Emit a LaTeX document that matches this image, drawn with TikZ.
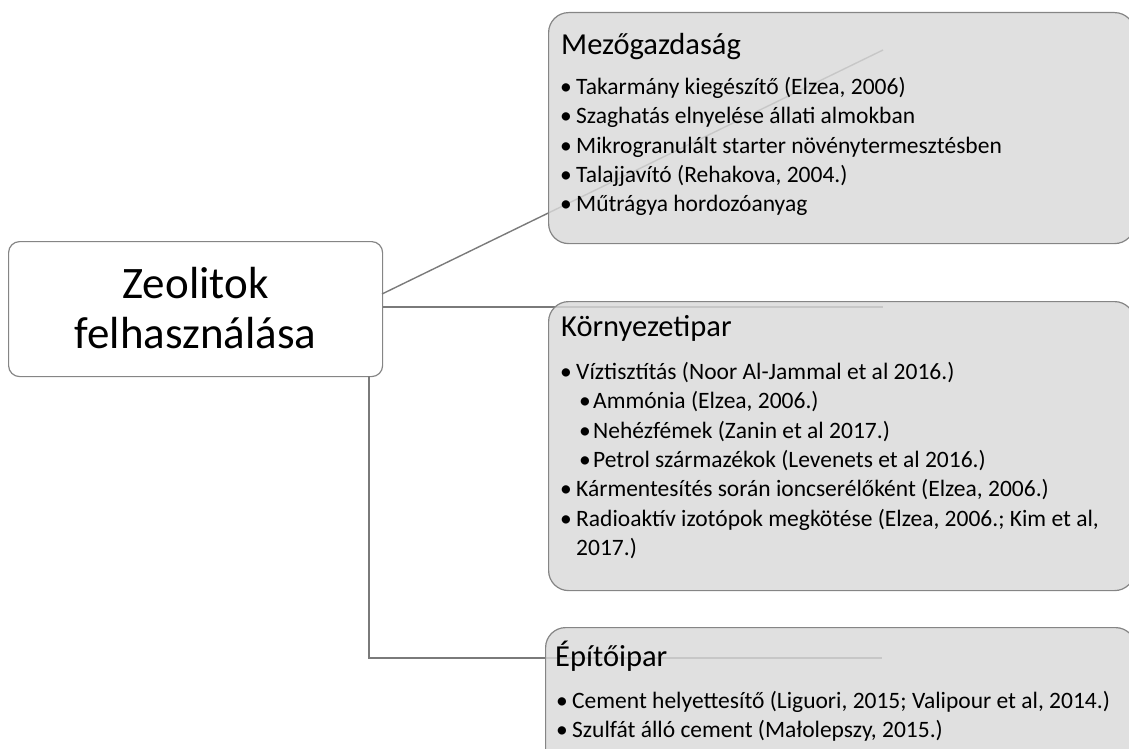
\documentclass[tikz,border=0pt]{standalone}
\usepackage{fontspec}
\setmainfont{Carlito}
\definecolor{linegray}{HTML}{7A7A7A}
\definecolor{boxfill}{HTML}{D9D9D9}
\definecolor{boxline}{HTML}{858585}
\newcommand{\bul}{\makebox[16pt][l]{•}}
\newcommand{\sbul}{\hspace*{19pt}\makebox[14pt][l]{•}}
\newcommand{\firstline}{\rule{0pt}{20pt}}
\begin{document}
\begin{tikzpicture}[x=1pt,y=-1pt,
  conn/.style={draw=linegray, line width=1.4pt},
  mainbox/.style={draw=boxline, line width=1.2pt, fill=white, rounded corners=11pt, inner sep=0pt},
  catbox/.style={draw=boxline, line width=1.2pt, fill=boxfill, fill opacity=0.82, text opacity=1, rounded corners=20pt, inner sep=0pt, anchor=north west},
  titletext/.style={anchor=base west, inner sep=0pt, font=\fontsize{30.5}{36}\selectfont},
  listtext/.style={anchor=north west, inner sep=0pt, align=left, font=\fontsize{23.5}{29.4}\selectfont}
]
\useasboundingbox (0,0) rectangle (1129,749);

% main node
\node[mainbox, minimum width=374pt, minimum height=135pt, anchor=north west] (main) at (8,241) {};
\node[align=center, font=\fontsize{45}{50}\selectfont, inner sep=0pt] (maintext) at ([yshift=1pt]main.center) {Zeolitok\\felhasználása};

% connector end points
\coordinate (s1) at (382,294);
\coordinate (e1) at (883,50);
\coordinate (e2) at (883,307);
\coordinate (s3) at (369,376);
\coordinate (k3) at (369,658);
\coordinate (e3) at (882,658);

\draw[conn] (s1) -- (e1);
\draw[conn] (main.east |- e2) -- (e2);
\draw[conn] (s3) -- (k3) -- (e3);

% category boxes
\node[catbox, minimum width=586pt, minimum height=231pt] (b1) at (548,12) {};
\node[catbox, minimum width=586pt, minimum height=289pt] (b2) at (548,301) {};
\node[catbox, minimum width=590pt, minimum height=160pt] (b3) at (545,627) {};

% box 1 text
\node[titletext] (t1) at (561,55) {Mezőgazdaság};
\node[listtext] (l1) at (560,74) {\firstline\bul Takarmány kiegészítő (Elzea, 2006)\\
\bul Szaghatás elnyelése állati almokban\\
\bul Mikrogranulált starter növénytermesztésben\\
\bul Talajjavító (Rehakova, 2004.)\\
\bul Műtrágya hordozóanyag};

% box 2 text
\node[titletext] (t2) at (561,336) {Környezetipar};
\node[listtext] (l2) at (560,359) {\firstline\bul Víztisztítás (Noor Al-Jammal et al 2016.)\\
\sbul Ammónia (Elzea, 2006.)\\
\sbul Nehézfémek (Zanin et al 2017.)\\
\sbul Petrol származékok (Levenets et al 2016.)\\
\bul Kármentesítés során ioncserélőként (Elzea, 2006.)\\
\bul Radioaktív izotópok megkötése (Elzea, 2006.; Kim et al,\\
\hspace*{16pt}2017.)};

% box 3 text
\node[titletext] (t3) at (555,666) {Építőipar};
\node[listtext] (l3) at (556,688) {\firstline\bul Cement helyettesítő (Liguori, 2015; Valipour et al, 2014.)\\
\bul Szulfát álló cement (Małolepszy, 2015.)};
\end{tikzpicture}
\end{document}
